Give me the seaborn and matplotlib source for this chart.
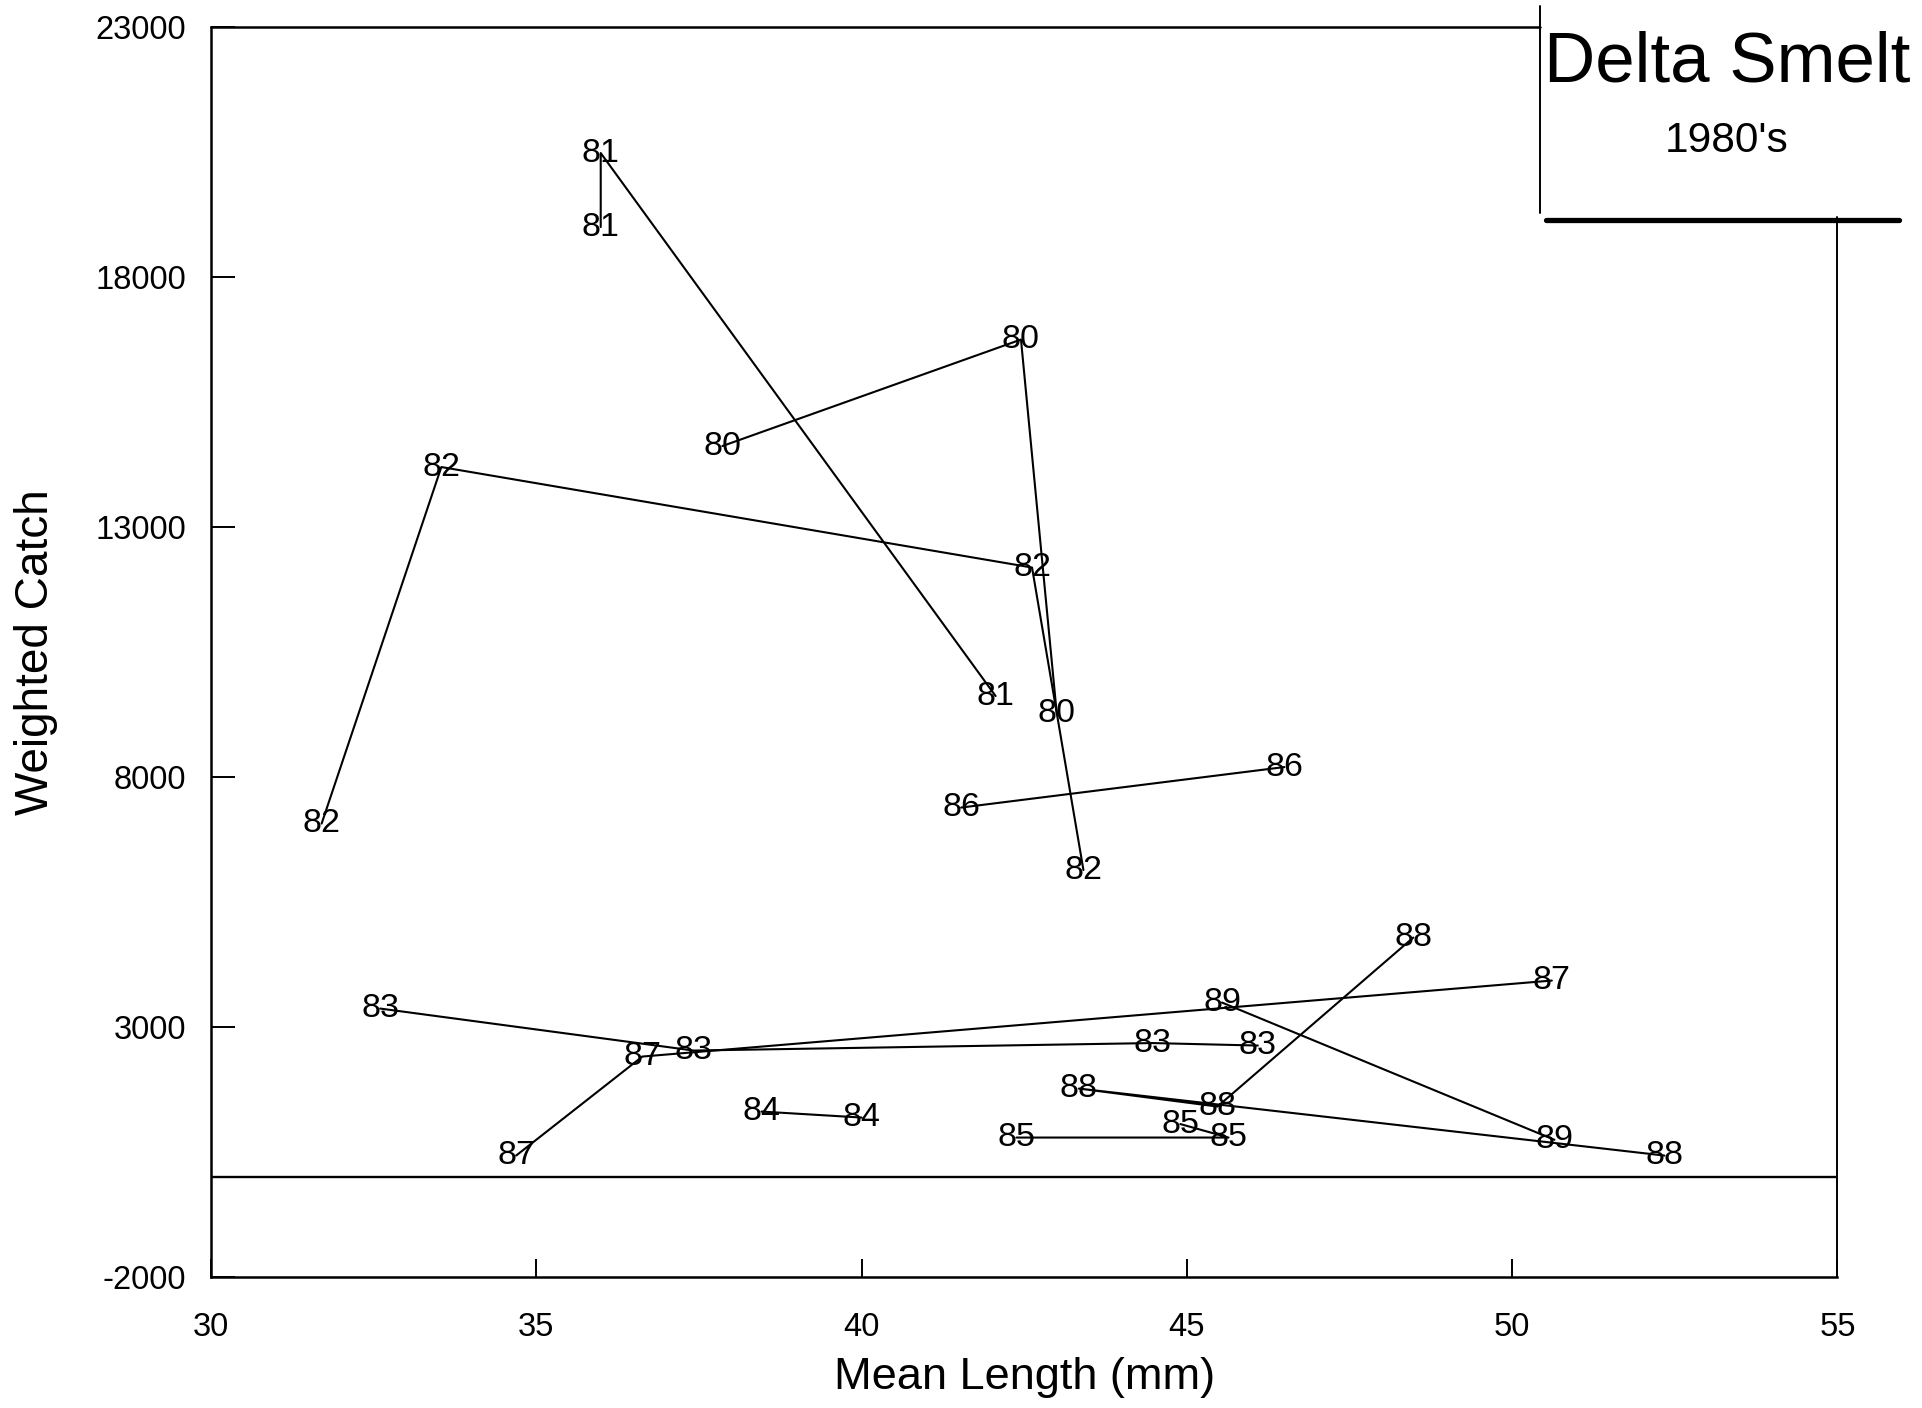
import pandas as pd
import matplotlib.pyplot as plt
import seaborn as sns

# ──────────────────────────────
# Data: Delta Smelt, 1980's (mean length vs weighted catch)
# each year is one path, points in drawing order
# ──────────────────────────────
years = ["80", "81", "82", "83", "84", "85", "86", "87", "88", "89"]
length_80 = [37.86, 42.45, 43.00]
catch_80 = [14620, 16750, 9270]
length_81 = [35.99, 35.99, 42.06]
catch_81 = [19000, 20480, 9620]
length_82 = [31.70, 33.54, 42.62, 43.41]
catch_82 = [7070, 14200, 12190, 6140]
length_83 = [32.60, 37.42, 44.47, 46.09]
catch_83 = [3370, 2530, 2680, 2630]
length_84 = [38.46, 40.00]
catch_84 = [1310, 1190]
length_85 = [42.38, 45.64, 44.90]
catch_85 = [790, 790, 1060]
length_86 = [41.53, 46.50]
catch_86 = [7390, 8200]
length_87 = [34.69, 36.63, 50.61]
catch_87 = [430, 2410, 3930]
length_88 = [48.48, 45.47, 43.34, 52.34]
catch_88 = [4790, 1410, 1770, 430]
length_89 = [45.54, 50.65]
catch_89 = [3490, 745]

x_ticks = [30, 35, 40, 45, 50, 55]
y_ticks = [-2000, 3000, 8000, 13000, 18000, 23000]

lengths = [length_80, length_81, length_82, length_83, length_84,
           length_85, length_86, length_87, length_88, length_89]
catches = [catch_80, catch_81, catch_82, catch_83, catch_84,
           catch_85, catch_86, catch_87, catch_88, catch_89]

rows = []
for yr, xs, ys in zip(years, lengths, catches):
    for i, (xv, yv) in enumerate(zip(xs, ys)):
        rows.append({"year": yr, "order": i, "length": xv, "catch": yv})
df = pd.DataFrame(rows)

# ──────────────────────────────
# Style
# ──────────────────────────────
sns.set_style("ticks")
plt.rcParams["font.family"] = ["Liberation Sans", "DejaVu Sans"]
plt.rcParams["axes.unicode_minus"] = False

fig = plt.figure(figsize=(19.22, 14.08), dpi=100)
ax = fig.add_axes([0.1098, 0.093, 0.8462, 0.8878])

sns.lineplot(data=df, x="length", y="catch", units="year", estimator=None,
             sort=False, color="black", linewidth=1.5, ax=ax, legend=False)

for _, r in df.iterrows():
    ax.text(r["length"], r["catch"], r["year"], ha="center", va="center",
            fontsize=24.5, color="black")

ax.axhline(0, color="black", linewidth=1.7)

ax.set_xlim(30, 55)
ax.set_ylim(-2000, 23000)
ax.set_xticks(x_ticks)
ax.set_yticks(y_ticks)
ax.tick_params(axis="x", direction="in", length=13, width=1.4, pad=25,
               labelsize=23.5, colors="black")
ax.tick_params(axis="y", direction="in", length=17, width=1.4, pad=18,
               labelsize=23.5, colors="black")

ax.set_xlabel("Mean Length (mm)", fontsize=32.5, color="black")
ax.set_ylabel("Weighted Catch", fontsize=33, color="black")
ax.xaxis.set_label_coords(0.5, -0.064)
ax.yaxis.set_label_coords(-0.094, 0.5)

# spines: top and right are partly covered by the title box
for s in ["left", "bottom"]:
    ax.spines[s].set_linewidth(1.8)
    ax.spines[s].set_color("black")
ax.spines["top"].set_visible(False)
ax.spines["right"].set_visible(False)

box_left, box_bottom = 0.817, 0.848
ax.plot([0, box_left], [1, 1], transform=ax.transAxes, color="black",
        linewidth=1.8, clip_on=False)
ax.plot([1, 1], [0, box_bottom], transform=ax.transAxes, color="black",
        linewidth=1.4, clip_on=False)

# title box
ax.plot([box_left, box_left], [box_bottom + 0.003, 1.017], transform=ax.transAxes,
        color="black", linewidth=1.4, clip_on=False)
ax.plot([box_left + 0.004, 1.038], [box_bottom - 0.002, box_bottom - 0.002],
        transform=ax.transAxes, color="black", linewidth=3.8, clip_on=False)
ax.text(0.932, 0.9706, "Delta Smelt", transform=ax.transAxes, ha="center",
        va="center", fontsize=51, color="black")
ax.text(0.932, 0.909, "1980's", transform=ax.transAxes, ha="center",
        va="center", fontsize=30.5, color="black")

fig.savefig("out.png", dpi=100)
